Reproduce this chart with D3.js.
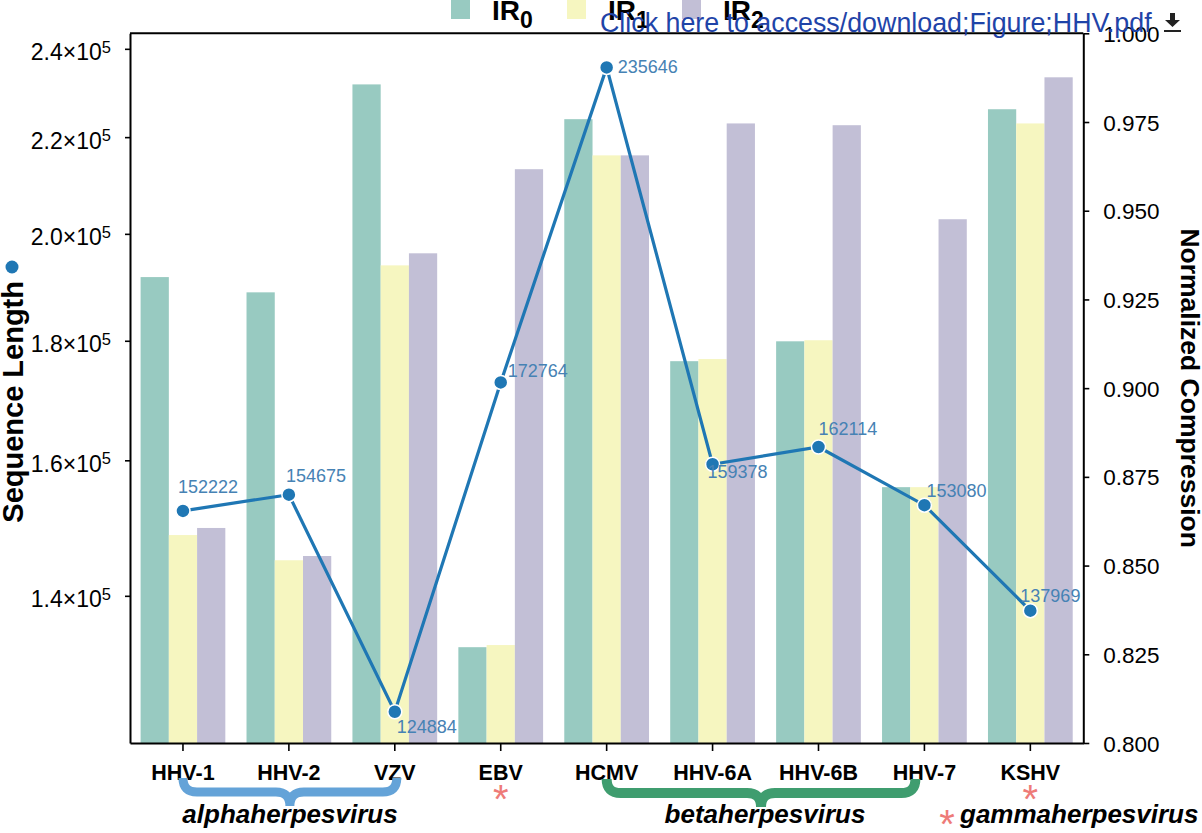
<!DOCTYPE html>
<html><head><meta charset="utf-8">
<script src="https://cdn.jsdelivr.net/npm/d3@7"></script>
<style>body{margin:0;background:#fff} svg{display:block} text{font-family:"Liberation Sans", Arial, Helvetica, sans-serif}</style>
</head><body><svg id="c" width="1202" height="833"></svg>
<script>
// ---------- data ----------
const categories = ["HHV-1","HHV-2","VZV","EBV","HCMV","HHV-6A","HHV-6B","HHV-7","KSHV"];
const ir0 = [0.9313, 0.9270, 0.9856, 0.8270, 0.9758, 0.9076, 0.9132, 0.8721, 0.9786];
const ir1 = [0.8586, 0.8515, 0.9346, 0.8276, 0.9656, 0.9082, 0.9135, 0.8721, 0.9746];
const ir2 = [0.8606, 0.8527, 0.9380, 0.9617, 0.9656, 0.9746, 0.9741, 0.9476, 0.9876];
const seqLength = [152222, 154675, 124884, 172764, 235646, 159378, 162114, 153080, 137969];
const seriesSubs = ["0","1","2"];
const leftTicks = [140000, 160000, 180000, 200000, 220000, 240000];
const leftTickMant = ["1.4","1.6","1.8","2.0","2.2","2.4"];
const rightTicks = [0.800, 0.825, 0.850, 0.875, 0.900, 0.925, 0.950, 0.975, 1.000];
const leftDomain = [121100, 243700];
const rightDomain = [0.8, 1.0];
const familyAlpha = ["HHV-1","VZV"];
const familyBeta = ["HCMV","HHV-7"];
const gammaMembers = ["EBV","KSHV"];

// ---------- layout / style ----------
const L = 130, R = 1083.3, T = 33.3, B = 743;
const barColors = ["#98cac1", "#f6f6c0", "#c2bfd6"];
const lineColor = "#1f77b4", labelColor = "#4682b4";
const labelOffsets = [[-5,-18],[-3,-13],[2,21],[7,-5],[11,6],[-5,14],[0,-12],[2,-8],[-10,-9]];

const svg = d3.select("#c");
const x = d3.scaleBand().domain(categories).range([L, R]).padding(0);
const yR = d3.scaleLinear().domain(rightDomain).range([B, T]);
const yL = d3.scaleLog().domain(leftDomain).range([B, T]);
const bw = x.bandwidth() * 0.8 / 3;
const cx = c => x(c) + x.bandwidth() / 2;

// bars
const series = [ir0, ir1, ir2];
series.forEach((s, si) => {
  svg.append("g").selectAll("rect").data(categories).join("rect")
    .attr("x", (c) => cx(c) + (si - 1.5) * bw)
    .attr("width", bw)
    .attr("y", (c, i) => yR(s[i]))
    .attr("height", (c, i) => B - yR(s[i]))
    .attr("fill", barColors[si]);
});

// line
const line = d3.line().x((d, i) => cx(categories[i])).y(d => yL(d));
svg.append("path").datum(seqLength).attr("d", line)
  .attr("fill", "none").attr("stroke", lineColor).attr("stroke-width", 3.2);
svg.append("g").selectAll("circle").data(seqLength).join("circle")
  .attr("cx", (d, i) => cx(categories[i])).attr("cy", d => yL(d)).attr("r", 7)
  .attr("fill", lineColor).attr("stroke", "#fff").attr("stroke-width", 1.5);
svg.append("g").selectAll("text").data(seqLength).join("text")
  .attr("x", (d, i) => cx(categories[i]) + labelOffsets[i][0])
  .attr("y", (d, i) => yL(d) + labelOffsets[i][1])
  .attr("fill", labelColor).attr("font-size", 18).text(d => d);

// axes
const axL = svg.append("g").attr("transform", `translate(${L},0)`)
  .call(d3.axisLeft(yL).tickValues(leftTicks).tickFormat("").tickSize(5).tickSizeOuter(0));
axL.selectAll(".tick").each(function(d, i) {
  const t = d3.select(this).append("text").attr("fill", "#000").attr("text-anchor", "end")
    .attr("x", -19).attr("y", 11).attr("font-size", 23);
  t.append("tspan").text(leftTickMant[i] + "×10");
  t.append("tspan").attr("font-size", 16.5).attr("dy", -7.5).text("5");
});
const axR = svg.append("g").attr("transform", `translate(${R},0)`)
  .call(d3.axisRight(yR).tickValues(rightTicks).tickFormat(d3.format(".3f")).tickSize(6).tickPadding(14).tickSizeOuter(0));
axR.selectAll("text").attr("font-size", 22.5).attr("dy", "0.36em");
const axB = svg.append("g").attr("transform", `translate(0,${B})`)
  .call(d3.axisBottom(x).tickSize(8).tickPadding(14).tickSizeOuter(0));
axB.selectAll("text").attr("font-size", 21.5).attr("font-weight", "bold");
[axL, axR, axB].forEach(a => {
  a.select(".domain").attr("stroke-width", 2);
  a.selectAll(".tick line").attr("stroke-width", 1.6);
  a.selectAll("text").attr("font-family", "Liberation Sans, Arial, sans-serif");
});
svg.append("line").attr("x1", L).attr("x2", R).attr("y1", T).attr("y2", T)
  .attr("stroke", "#000").attr("stroke-width", 2);

// axis titles
svg.append("text").attr("transform", "translate(23,281) rotate(-90)")
  .attr("text-anchor", "end").attr("font-size", 29).attr("font-weight", "bold").text("Sequence Length");
svg.append("circle").attr("cx", 12).attr("cy", 267).attr("r", 6.5).attr("fill", lineColor);
svg.append("text").attr("transform", `translate(1181,${(T + B) / 2}) rotate(90)`)
  .attr("text-anchor", "middle").attr("font-size", 26.5).attr("font-weight", "bold").text("Normalized Compression");

// legend
const legX = [451, 567, 682];
seriesSubs.forEach((s, i) => {
  svg.append("rect").attr("x", legX[i]).attr("y", 0).attr("width", 19).attr("height", 19).attr("fill", barColors[i]);
  const t = svg.append("text").attr("x", legX[i] + 41).attr("y", 20).attr("font-size", 28).attr("font-weight", "bold");
  t.append("tspan").text("IR");
  t.append("tspan").attr("dy", 8).attr("font-size", 23).text(s);
});

// braces
function brace(x1, x2, yTop, yMid, yTip, r) {
  const xm = (x1 + x2) / 2;
  return `M${x1},${yTop} L${x1},${yMid - r} Q${x1},${yMid} ${x1 + r},${yMid} L${xm - r},${yMid} Q${xm},${yMid} ${xm},${yTip} ` +
         `Q${xm},${yMid} ${xm + r},${yMid} L${x2 - r},${yMid} Q${x2},${yMid} ${x2},${yMid - r} L${x2},${yTop}`;
}
svg.append("path").attr("d", brace(cx(familyAlpha[0]), cx(familyAlpha[1]) + 2, 779, 792, 806, 14))
  .attr("fill", "none").attr("stroke", "#64a3d8").attr("stroke-width", 9);
svg.append("path").attr("d", brace(cx(familyBeta[0]), cx(familyBeta[1]) - 9, 779, 793, 807, 14))
  .attr("fill", "none").attr("stroke", "#3f9d6f").attr("stroke-width", 10);
svg.append("text").attr("x", 290).attr("y", 823).attr("text-anchor", "middle")
  .attr("font-size", 26).attr("font-weight", "bold").attr("font-style", "italic").text("alphaherpesvirus");
svg.append("text").attr("x", 765).attr("y", 823).attr("text-anchor", "middle")
  .attr("font-size", 26).attr("font-weight", "bold").attr("font-style", "italic").text("betaherpesvirus");
svg.append("text").attr("x", 960).attr("y", 823)
  .attr("font-size", 26).attr("font-weight", "bold").attr("font-style", "italic").text("gammaherpesvirus");
gammaMembers.forEach(c => {
  svg.append("text").attr("x", cx(c)).attr("y", 813).attr("text-anchor", "middle")
    .attr("font-size", 40).attr("fill", "#ee7b78").text("*");
});
svg.append("text").attr("x", 947).attr("y", 838).attr("text-anchor", "middle")
  .attr("font-size", 40).attr("fill", "#ee7b78").text("*");

// overlay link text + icon
svg.append("text").attr("x", 600).attr("y", 31.7).attr("font-size", 26.8).attr("fill", "#1f44a8")
  .text("Click here to access/download;Figure;HHV.pdf");
svg.append("path").attr("d", "M1170,13 L1175,13 L1175,20 L1180,20 L1172.5,27 L1165,20 L1170,20 Z").attr("fill", "#222");
svg.append("rect").attr("x", 1164).attr("y", 30).attr("width", 17).attr("height", 2).attr("fill", "#222");
</script></body></html>
